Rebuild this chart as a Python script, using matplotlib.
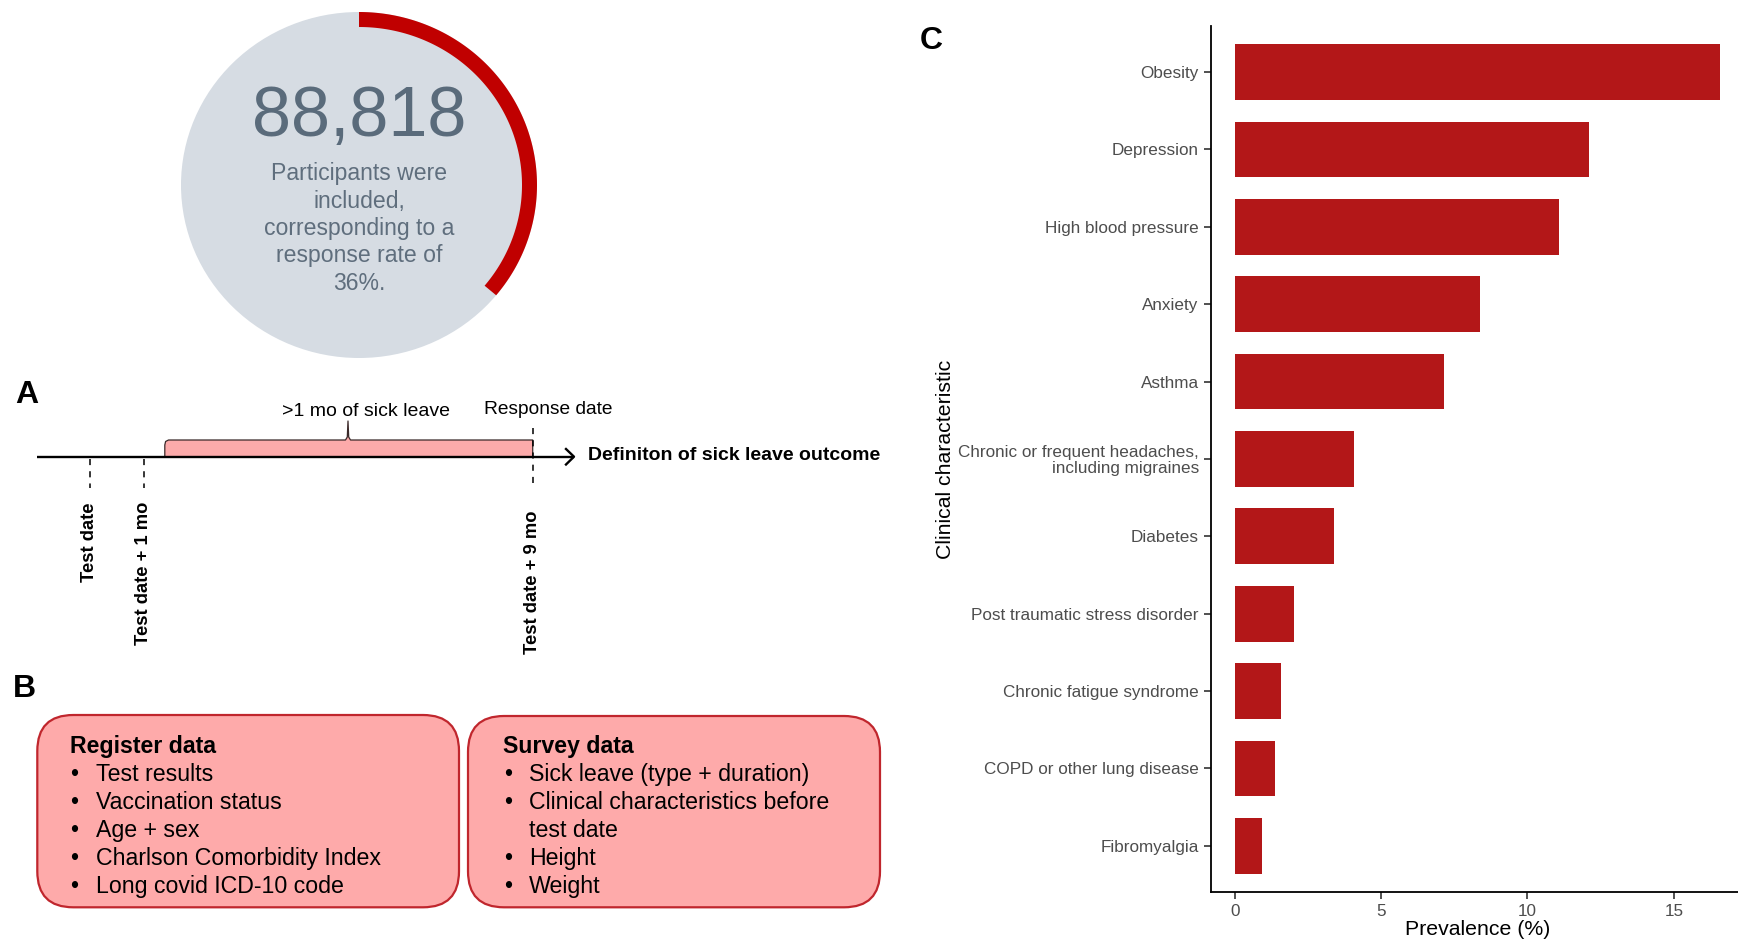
import numpy as np
import matplotlib
matplotlib.use("Agg")
import matplotlib.pyplot as plt
from matplotlib.patches import Ellipse, Polygon, FancyBboxPatch

plt.rcParams['font.family'] = ['Liberation Sans', 'DejaVu Sans']

# ---------------- data ----------------
participants = "88,818"
response_rate = 36  # percent
circle_text = "Participants were\nincluded,\ncorresponding to a\nresponse rate of\n36%."

timeline_labels = ["Test date", "Test date + 1 mo", "Test date + 9 mo"]
sick_leave_label = ">1 mo of sick leave"
response_label = "Response date"
outcome_label = "Definiton of sick leave outcome"

register_title = "Register data"
register_items = ["Test results", "Vaccination status", "Age + sex",
                  "Charlson Comorbidity Index", "Long covid ICD-10 code"]
survey_title = "Survey data"
survey_items = ["Sick leave (type + duration)",
                "Clinical characteristics before\ntest date", "Height", "Weight"]

categories = ["Obesity", "Depression", "High blood pressure", "Anxiety", "Asthma",
              "Chronic or frequent headaches,\nincluding migraines", "Diabetes",
              "Post traumatic stress disorder", "Chronic fatigue syndrome",
              "COPD or other lung disease", "Fibromyalgia"]
prevalence = [16.57, 12.09, 11.07, 8.38, 7.16, 4.07, 3.39, 2.01, 1.56, 1.38, 0.93]
x_ticks = [0, 5, 10, 15]

# ---------------- figure ----------------
W, H = 1738, 944
fig = plt.figure(figsize=(W / 100, H / 100), dpi=100)

ov = fig.add_axes([0, 0, 1, 1], zorder=0)
ov.set_xlim(0, W)
ov.set_ylim(H, 0)
ov.axis('off')

# ---- response circle ----
cx, cy, rx, ry = 359, 185, 178, 173
ov.add_patch(Ellipse((cx, cy), 2 * rx, 2 * ry, fc='#D6DCE3', ec='none'))
band = 15
t = np.radians(np.linspace(0, 360 * response_rate / 100, 200))
outer = np.column_stack([cx + rx * np.sin(t), cy - ry * np.cos(t)])
inner = np.column_stack([cx + (rx - band) * np.sin(t[::-1]), cy - (ry - band) * np.cos(t[::-1])])
ov.add_patch(Polygon(np.vstack([outer, inner]), closed=True, fc='#C00000', ec='none'))
ov.text(cx, 118, participants, fontsize=50.5, color='#5A6B7B', ha='center', va='center')
ov.text(cx, 228.5, circle_text, fontsize=16.6, color='#5F6E7D', ha='center', va='center',
        linespacing=1.24)

# ---- panel A: timeline ----
ov.text(27, 395, "A", fontsize=23, fontweight='bold', ha='center', va='center')
yl = 456.7
shape = [(164.8, yl), (164.8, 445), (165.6, 441.5), (168.5, 440), (345.5, 440), (347.3, 437),
         (348, 421), (348.7, 437), (350.5, 440), (532.7, 440), (532.7, yl)]
ov.add_patch(Polygon(shape, closed=True, fc='#FCAAAA', ec='#3A2A2A', lw=0.9,
                     joinstyle='round', zorder=2))
ov.plot([37, 574], [yl, yl], color='black', lw=1.7, zorder=3, solid_capstyle='butt')
ov.plot([566, 574, 566], [449, yl, 464.5], color='black', lw=1.7, zorder=3)
ov.text(588, yl - 1, outcome_label, fontsize=14, fontweight='bold', ha='left', va='center')
ov.text(366, 411, sick_leave_label, fontsize=14, ha='center', va='center')
ov.text(548.5, 409.5, response_label, fontsize=13.8, ha='center', va='center')

tl_x = [90, 143.5, 532.7]
tl_top = [459, 459, 428]
tl_label_top = [503, 502, 510]
for x, y0, lab, yt in zip(tl_x, tl_top, timeline_labels, tl_label_top):
    ov.plot([x, x], [y0, 488], color='black', lw=1.1, ls=(0, (4, 4)), zorder=4)
    ov.text(x, yt, lab, fontsize=13.2, fontweight='bold', rotation=90,
            ha='center', va='top')

# ---- panel B: data sources ----
ov.text(24, 689, "B", fontsize=23, fontweight='bold', ha='center', va='center')
boxes = [(37.3, 715, 421.7, 192.3), (468, 716, 412, 191.3)]
for bx, by, bw, bh in boxes:
    ov.add_patch(FancyBboxPatch((bx, by), bw, bh,
                                boxstyle="round,pad=0,rounding_size=36",
                                fc='#FEAAAA', ec='#C0262D', lw=1.6))

line_h = 28
def draw_list(x_title, x_bullet, x_text, title, items):
    ov.text(x_title, 746, title, fontsize=16.7, fontweight='bold', ha='left', va='center')
    y = 774.3
    for it in items:
        ov.text(x_bullet, y, "•", fontsize=16.7, ha='center', va='center')
        for ln in it.split("\n"):
            ov.text(x_text, y, ln, fontsize=16.7, ha='left', va='center')
            y += line_h

draw_list(70, 74, 96.4, register_title, register_items)
draw_list(503, 508, 529, survey_title, survey_items)

# ---- panel C: bar chart ----
ov.text(931, 41, "C", fontsize=23, fontweight='bold', ha='center', va='center')

left_px, right_px, top_px, bot_px = 1210.6, 1744.0, 25.6, 892.2
ax = fig.add_axes([left_px / W, 1 - bot_px / H, (right_px - left_px) / W,
                   (bot_px - top_px) / H], zorder=1)
n = len(categories)
ypos = np.arange(n)[::-1]
ax.barh(ypos, prevalence, height=0.72, color='#B31718', edgecolor='none')
ax.set_xlim(-0.83, 17.40)
ax.set_ylim(-0.6, n - 0.4)
ax.set_yticks(ypos)
ax.set_yticklabels(categories, linespacing=1.05)
ax.set_xticks(x_ticks)
ax.set_xticklabels([str(v) for v in x_ticks])
for s in ['top', 'right']:
    ax.spines[s].set_visible(False)
for s in ['left', 'bottom']:
    ax.spines[s].set_linewidth(1.3)
ax.tick_params(axis='both', length=5, width=1.2, colors='#333333', labelcolor='#4D4D4D',
               labelsize=12.3, pad=3.5)
ax.set_xlabel("Prevalence (%)", fontsize=15.3)
ax.set_ylabel("Clinical characteristic", fontsize=15.3)
ax.xaxis.set_label_coords(0.5, (bot_px - 920) / (bot_px - top_px))
ax.yaxis.set_label_coords((955 - left_px) / (right_px - left_px), 0.5)

fig.savefig("out.png", dpi=100)
